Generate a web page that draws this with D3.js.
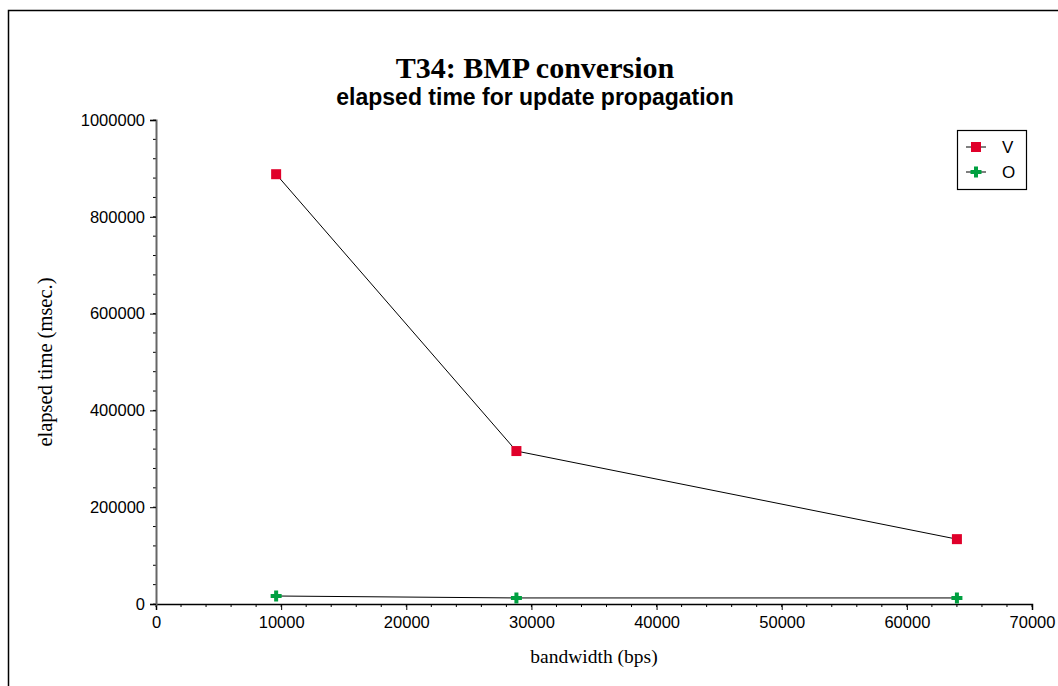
<!DOCTYPE html>
<html>
<head>
<meta charset="utf-8">
<script src="https://cdn.jsdelivr.net/npm/d3@7"></script>
<style>
  body { margin: 0; background: white; }
</style>
</head>
<body>
<div id="container"></div>
<script>
let w = 1058;
let h = 686;

// data
let bandwidth = [9600, 28800, 64000];
let seriesV = [888000, 316000, 134000];
let seriesO = [16500, 12500, 12500];
let seriesNames = ["V", "O"];
let xTicks = [0, 10000, 20000, 30000, 40000, 50000, 60000, 70000];
let yTicks = [0, 200000, 400000, 600000, 800000, 1000000];

let viz = d3.select("#container")
  .append("svg")
    .attr("width", w)
    .attr("height", h)
    .style("background-color", "white")
;

// outer frame
viz.append("rect")
  .attr("x", 8.5).attr("y", 10.5)
  .attr("width", w).attr("height", h)
  .attr("fill", "none").attr("stroke", "black").attr("stroke-width", 1.5);

let plotLeft = 156, plotRight = 1032, plotTop = 120, plotBottom = 604;
let xScale = d3.scaleLinear().domain([0, 70000]).range([plotLeft, plotRight]);
let yScale = d3.scaleLinear().domain([0, 1000000]).range([plotBottom, plotTop]);

// titles
viz.append("text")
  .attr("x", 535).attr("y", 78)
  .attr("text-anchor", "middle")
  .style("font-family", "'Liberation Serif', 'Times New Roman', serif")
  .style("font-weight", "bold").style("font-size", "30px")
  .text("T34: BMP conversion");
viz.append("text")
  .attr("x", 535).attr("y", 105)
  .attr("text-anchor", "middle")
  .style("font-family", "'Liberation Sans', Arial, sans-serif")
  .style("font-weight", "bold").style("font-size", "23px")
  .text("elapsed time for update propagation");

// minor ticks
let xMinor = d3.range(0, 70001, 2000);
viz.append("g").selectAll("line").data(xMinor).enter().append("line")
  .attr("x1", d => xScale(d)).attr("x2", d => xScale(d))
  .attr("y1", plotBottom).attr("y2", plotBottom + 3)
  .attr("stroke", "black");
let yMinor = d3.range(0, 1000001, 40000);
viz.append("g").selectAll("line").data(yMinor).enter().append("line")
  .attr("x1", plotLeft - 3).attr("x2", plotLeft)
  .attr("y1", d => yScale(d)).attr("y2", d => yScale(d))
  .attr("stroke", "black");

// X AXIS
let xAxisGroup = viz.append("g").attr("class", "xaxis")
  .attr("transform", "translate(0," + plotBottom + ")");
xAxisGroup.call(d3.axisBottom(xScale).tickValues(xTicks).tickSize(6).tickPadding(4).tickFormat(d3.format("d")));

// Y AXIS
let yAxisGroup = viz.append("g").attr("class", "yaxis")
  .attr("transform", "translate(" + plotLeft + ",0)");
yAxisGroup.call(d3.axisLeft(yScale).tickValues(yTicks).tickSize(6).tickPadding(5).tickFormat(d3.format("d")));

viz.selectAll(".xaxis text, .yaxis text")
  .style("font-family", "'Liberation Sans', Arial, sans-serif")
  .style("font-size", "16.5px").attr("fill", "black");
xAxisGroup.selectAll("text").attr("dy", "0.85em");
viz.selectAll(".xaxis path, .yaxis path").attr("stroke-width", 1.5);
yAxisGroup.select("path").attr("stroke", "#666").attr("stroke-width", 2);

// axis labels
viz.append("text")
  .attr("x", 594).attr("y", 663)
  .attr("text-anchor", "middle")
  .style("font-family", "'Liberation Serif', 'Times New Roman', serif")
  .style("font-size", "19.5px")
  .text("bandwidth (bps)");
viz.append("text")
  .attr("transform", "translate(52," + 362 + ") rotate(-90)")
  .attr("text-anchor", "middle")
  .style("font-family", "'Liberation Serif', 'Times New Roman', serif")
  .style("font-size", "20.5px")
  .text("elapsed time (msec.)");

let line = d3.line()
  .x(d => xScale(d[0]))
  .y(d => yScale(d[1]));

let vData = bandwidth.map((b, i) => [b, seriesV[i]]);
let oData = bandwidth.map((b, i) => [b, seriesO[i]]);

let red = "#e0002a";
let green = "#00a040";
let crossPath = "M-2,-5.5H2V-2H5.5V2H2V5.5H-2V2H-5.5V-2H-2Z";

viz.append("path").datum(vData).attr("d", line)
  .attr("fill", "none").attr("stroke", "black").attr("stroke-width", 1);
viz.append("path").datum(oData).attr("d", line)
  .attr("fill", "none").attr("stroke", "black").attr("stroke-width", 1);

viz.append("g").selectAll("rect").data(vData).enter().append("rect")
  .attr("x", d => xScale(d[0]) - 5).attr("y", d => yScale(d[1]) - 5)
  .attr("width", 10).attr("height", 10)
  .attr("fill", red);
viz.append("g").selectAll("path").data(oData).enter().append("path")
  .attr("d", crossPath)
  .attr("transform", d => "translate(" + xScale(d[0]) + "," + yScale(d[1]) + ")")
  .attr("fill", green);

// legend
let legend = viz.append("g").attr("transform", "translate(957,130)");
legend.append("rect")
  .attr("x", 0.5).attr("y", 0.5).attr("width", 69).attr("height", 59)
  .attr("fill", "white").attr("stroke", "black").attr("stroke-width", 1.2);
seriesNames.forEach(function(name, i){
  let yy = 17 + i * 25;
  legend.append("line")
    .attr("x1", 9).attr("x2", 29).attr("y1", yy).attr("y2", yy)
    .attr("stroke", "black");
  if (i == 0) {
    legend.append("rect").attr("x", 14).attr("y", yy - 5).attr("width", 10).attr("height", 10).attr("fill", red);
  } else {
    legend.append("path").attr("d", crossPath).attr("transform", "translate(19," + yy + ")").attr("fill", green);
  }
  legend.append("text")
    .attr("x", 45).attr("y", yy + 6)
    .style("font-family", "'Liberation Sans', Arial, sans-serif")
    .style("font-size", "17px")
    .text(name);
});
</script>
</body>
</html>
